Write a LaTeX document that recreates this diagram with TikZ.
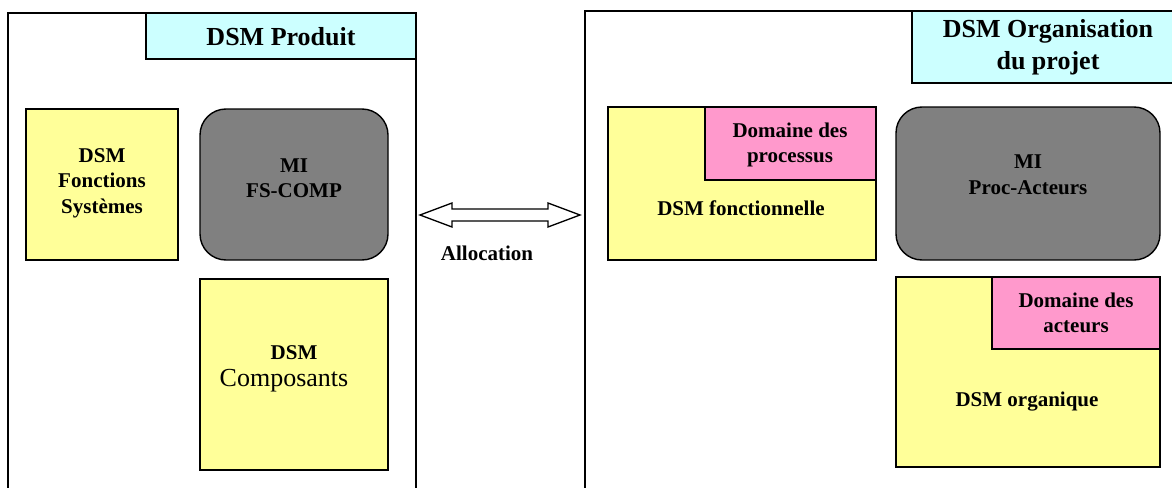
\documentclass[tikz,border=0pt]{standalone}
\usepackage{fontspec}
\setmainfont{Liberation Serif}
\definecolor{dsmyellow}{HTML}{FFFF99}
\definecolor{dsmcyan}{HTML}{CCFFFF}
\definecolor{dsmpink}{HTML}{FF99CC}
\definecolor{dsmgray}{HTML}{808080}
\begin{document}
\begin{tikzpicture}[x=1pt,y=-1pt,
  frame/.style={draw=black,line width=1.4pt},
  box/.style={draw=black,line width=1.4pt,inner sep=0pt,outer sep=0pt},
  yellowbox/.style={box,fill=dsmyellow},
  pinkbox/.style={box,fill=dsmpink},
  cyanbox/.style={box,fill=dsmcyan},
  graybox/.style={box,fill=dsmgray,rounded corners=26pt},
  small/.style={font=\bfseries\fontsize{21}{25.5}\selectfont,align=center,inner sep=0pt},
  big/.style={font=\bfseries\fontsize{26}{32}\selectfont,align=center,inner sep=0pt},
  bigreg/.style={font=\fontsize{26}{32}\selectfont,align=center,inner sep=0pt}
]
\useasboundingbox (0,0) rectangle (1172,487);
\clip (0,0) rectangle (1172,487);
\fill[white] (0,0) rectangle (1172,487);

% panels
\draw[frame] (8,495) -- (8,13) -- (416,13) -- (416,495);
\draw[frame] (585,495) -- (585,11) -- (1180,11);

% title boxes
\draw[cyanbox] (146,13) rectangle (416,59);
\node[big] (tprod) at (281,37) {DSM Produit};
\draw[cyanbox] (912,11) rectangle (1180,83);
\node[big] (torg) at (1048,47) {DSM Organisation\\du projet};

% left panel
\draw[yellowbox] (26,109) rectangle (178,260);
\node[small] (fs) at (102,183) {DSM\\Fonctions\\Systèmes};
\draw[graybox] (200,109) rectangle (388,260);
\node[small] (mi1) at (294,178) {MI\\FS-COMP};
\draw[yellowbox] (200,279) rectangle (388,470);
\node[small] (cdsm) at (294,353) {DSM};
\node[bigreg] (ccomp) at (284,381) {Composants};

% right panel
\draw[yellowbox] (608,107) rectangle (876,260);
\draw[pinkbox] (705,107) rectangle (876,180);
\node[small] (proc) at (790,145) {Domaine des\\processus};
\node[small] (fonc) at (741,208) {DSM fonctionnelle};
\draw[graybox] (896,107) rectangle (1160,260);
\node[small] (mi2) at (1028,175) {MI\\Proc-Acteurs};
\draw[yellowbox] (896,277) rectangle (1160,467);
\draw[pinkbox] (992,277) rectangle (1160,349);
\node[small] (act) at (1076,313) {Domaine des\\acteurs};
\node[small] (org) at (1027,402) {DSM organique};

% allocation double arrow
\draw[line width=1.3pt,fill=white,line join=miter]
  (420,215) -- (452,203) -- (452,209) -- (548,209) -- (548,203) -- (580,215)
  -- (548,227) -- (548,221) -- (452,221) -- (452,227) -- cycle;
\node[small] (alloc) at (487,253) {Allocation};
\end{tikzpicture}
\end{document}
